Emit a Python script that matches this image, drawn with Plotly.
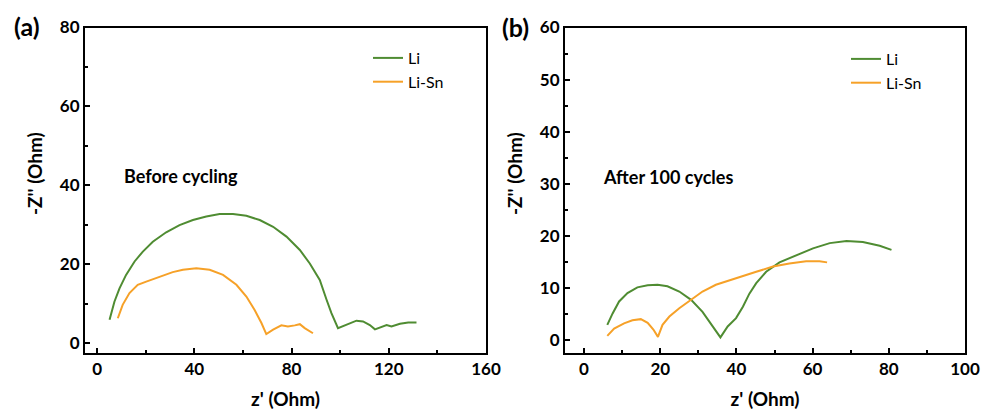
import plotly.graph_objects as go

# ---------------- data ----------------
# Panel (a) Before cycling
a_li_x = [5.1, 7.1, 9.2, 11.9, 15.4, 18.8, 22.9, 28.4, 33.9, 39.4, 44.9, 50.4, 55.9, 61.4,
          66.9, 72.4, 77.9, 83.4, 87.5, 91.6, 94.4, 96.4, 99.1, 102.6, 106.7, 109.4, 112.2,
          114.3, 117.0, 119.1, 121.1, 124.6, 128.0, 131.4]
a_li_y = [5.9, 10.5, 13.9, 17.3, 20.7, 23.2, 25.7, 28.1, 29.9, 31.2, 32.1, 32.7, 32.7, 32.3,
          31.2, 29.5, 27.0, 23.6, 20.2, 16.0, 11.0, 7.6, 3.8, 4.6, 5.7, 5.5, 4.6,
          3.5, 4.2, 4.6, 4.2, 4.9, 5.2, 5.2]
a_sn_x = [8.5, 10.5, 13.3, 16.7, 20.2, 23.6, 27.0, 31.1, 35.3, 40.8, 46.3, 51.8, 57.3, 61.4,
          64.8, 67.6, 69.6, 72.4, 75.8, 78.5, 81.3, 83.4, 85.4, 88.8]
a_sn_y = [6.3, 9.7, 12.7, 14.8, 15.6, 16.3, 17.1, 18.0, 18.6, 19.0, 18.6, 17.3, 14.8, 11.8,
          8.4, 5.1, 2.3, 3.4, 4.5, 4.2, 4.5, 4.8, 3.8, 2.5]

# Panel (b) After 100 cycles
b_li_x = [6.1, 7.5, 9.2, 11.4, 14.0, 16.7, 19.3, 21.9, 25.0, 28.1, 31.1, 33.8, 35.8, 37.7,
          39.9, 41.7, 43.4, 45.2, 47.8, 51.3, 55.7, 60.1, 64.5, 68.9, 73.2, 77.6, 80.7]
b_li_y = [2.9, 5.1, 7.4, 9.0, 10.1, 10.5, 10.6, 10.3, 9.3, 7.7, 5.4, 2.6, 0.5, 2.6,
          4.2, 6.4, 8.9, 10.9, 13.1, 14.9, 16.3, 17.6, 18.6, 19.0, 18.8, 18.1, 17.3]
b_sn_x = [6.1, 7.9, 10.5, 12.7, 14.9, 16.7, 18.2, 19.4, 20.6, 22.4, 25.0, 28.1, 31.1, 34.6,
          39.0, 43.4, 45.2, 49.6, 53.9, 58.3, 61.8, 63.8]
b_sn_y = [0.8, 2.2, 3.2, 3.8, 4.0, 3.3, 2.0, 0.6, 2.9, 4.5, 6.1, 7.8, 9.3, 10.6,
          11.7, 12.7, 13.1, 14.1, 14.7, 15.1, 15.1, 14.9]

series_names = ["Li", "Li-Sn"]
panel_labels = ["(a)", "(b)"]
panel_notes = ["Before cycling", "After 100 cycles"]
x_title = "z' (Ohm)"
y_title = "-Z'' (Ohm)"

# ---------------- style ----------------
GREEN = "#4f8c32"
ORANGE = "#f6a128"
W, H = 983, 419
FONT = "Lato"

def px(xp):
    return xp / W

def py(yp):
    return 1 - yp / H

fig = go.Figure()

fig.add_trace(go.Scatter(x=a_li_x, y=a_li_y, mode="lines", name=series_names[0],
                         line=dict(color=GREEN, width=2), xaxis="x", yaxis="y",
                         legend="legend", legendgroup="a1"))
fig.add_trace(go.Scatter(x=a_sn_x, y=a_sn_y, mode="lines", name=series_names[1],
                         line=dict(color=ORANGE, width=2), xaxis="x", yaxis="y",
                         legend="legend", legendgroup="a2"))
fig.add_trace(go.Scatter(x=b_li_x, y=b_li_y, mode="lines", name=series_names[0],
                         line=dict(color=GREEN, width=2), xaxis="x2", yaxis="y2",
                         legend="legend2", legendgroup="b1"))
fig.add_trace(go.Scatter(x=b_sn_x, y=b_sn_y, mode="lines", name=series_names[1],
                         line=dict(color=ORANGE, width=2), xaxis="x2", yaxis="y2",
                         legend="legend2", legendgroup="b2"))

tickfont = dict(family=FONT, size=17, color="black", weight="bold")
titlefont = dict(family=FONT, size=19, color="black", weight="bold")

def axis_common():
    return dict(showline=True, linecolor="black", linewidth=2, mirror=True,
                showgrid=False, zeroline=False, ticks="inside", ticklen=5,
                tickwidth=2, tickcolor="black", tickfont=tickfont, automargin=False)

ydom = [py(353), py(27.5)]

xa = axis_common()
xa.update(domain=[px(85), px(486)], range=[-5, 160], dtick=40, tick0=0, anchor="y",
          minor=dict(ticks="inside", ticklen=3, tickwidth=1.5, dtick=20, tick0=0, tickcolor="black"),
          title=dict(text=x_title, font=titlefont, standoff=14))
ya = axis_common()
ya.update(domain=ydom, range=[-2.5, 80], dtick=20, tick0=0, anchor="x",
          minor=dict(ticks="inside", ticklen=3, tickwidth=1.5, dtick=10, tick0=0, tickcolor="black"))

xb = axis_common()
xb.update(domain=[px(565), px(965)], range=[-5, 100], dtick=20, tick0=0, anchor="y2",
          minor=dict(ticks="inside", ticklen=3, tickwidth=1.5, dtick=10, tick0=0, tickcolor="black"),
          title=dict(text=x_title, font=titlefont, standoff=14))
yb = axis_common()
yb.update(domain=ydom, range=[-2.5, 60], dtick=10, tick0=0, anchor="x2",
          minor=dict(ticks="inside", ticklen=3, tickwidth=1.5, dtick=5, tick0=0, tickcolor="black"))

legend_common = dict(xanchor="left", yanchor="top", bgcolor="rgba(0,0,0,0)",
                     font=dict(family=FONT, size=16, color="black"), tracegroupgap=0,
                     itemwidth=30)

fig.update_layout(
    width=W, height=H,
    margin=dict(l=0, r=0, t=0, b=0, autoexpand=False),
    paper_bgcolor="white", plot_bgcolor="white",
    xaxis=xa, yaxis=ya, xaxis2=xb, yaxis2=yb,
    legend=dict(x=px(368), y=py(41), **legend_common),
    legend2=dict(x=px(846), y=py(42), **legend_common),
    showlegend=True,
)

annots = []
# panel labels
annots.append(dict(text=panel_labels[0], x=px(27), y=py(26), xref="paper", yref="paper",
                   xanchor="center", yanchor="middle", showarrow=False,
                   font=dict(family=FONT, size=25, color="black", weight="bold")))
annots.append(dict(text=panel_labels[1], x=px(515), y=py(27), xref="paper", yref="paper",
                   xanchor="center", yanchor="middle", showarrow=False,
                   font=dict(family=FONT, size=25, color="black", weight="bold")))
# y titles
for xc in (35, 515):
    annots.append(dict(text=y_title, x=px(xc), y=py(174), xref="paper", yref="paper",
                       xanchor="center", yanchor="middle", textangle=-90, showarrow=False,
                       font=titlefont))
# notes
annots.append(dict(text=panel_notes[0], x=10.4, y=42.4, xref="x", yref="y", xanchor="left",
                   yanchor="middle", showarrow=False,
                   font=dict(family=FONT, size=18, color="black", weight="bold")))
annots.append(dict(text=panel_notes[1], x=4.5, y=31.3, xref="x2", yref="y2", xanchor="left",
                   yanchor="middle", showarrow=False,
                   font=dict(family=FONT, size=18, color="black", weight="bold")))
fig.update_layout(annotations=annots)

fig.write_html("out.html")
